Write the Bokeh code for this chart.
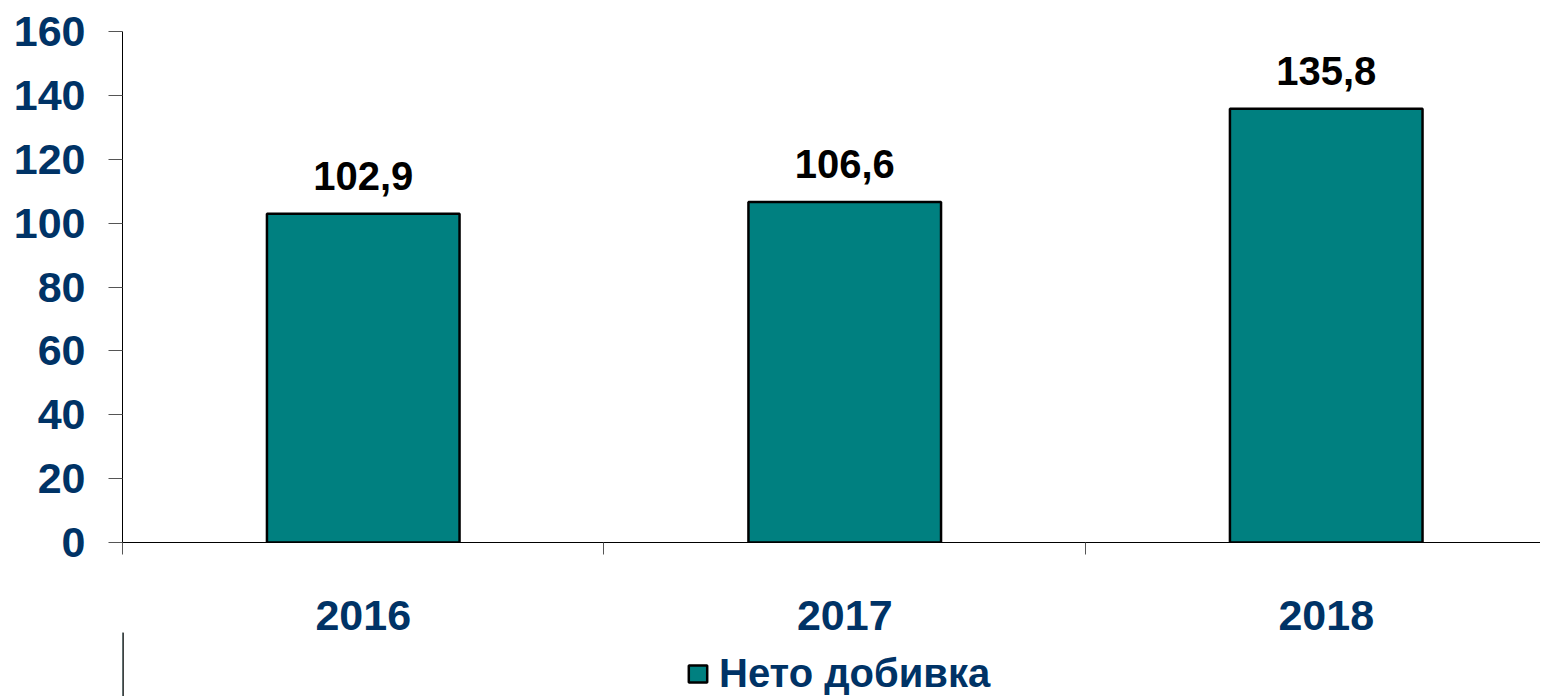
from bokeh.plotting import figure
from bokeh.layouts import column
from bokeh.models import Range1d, FixedTicker, Legend, LegendItem, ColumnDataSource
from bokeh.core.properties import value
from bokeh.embed import file_html
from bokeh.resources import INLINE

years = ["2016", "2017", "2018"]
net_profit = [102.9, 106.6, 135.8]
value_labels = ["102,9", "106,6", "135,8"]
y_ticks = [0, 20, 40, 60, 80, 100, 120, 140, 160]
series_name = "Нето добивка"

NAVY = "#003366"
TEAL = "#008080"
FONT = "Liberation Sans"

xs = [i + 0.5 for i in range(len(years))]
src = ColumnDataSource(dict(x=xs, top=net_profit, lab=value_labels))

p = figure(frame_width=1418, frame_height=511, output_backend="svg", toolbar_location=None,
           x_range=Range1d(0, 2.945), y_range=Range1d(0, 160),
           min_border_left=122, min_border_top=31, min_border_right=0, min_border_bottom=0)
p.outline_line_color = None
p.xgrid.visible = False
p.ygrid.visible = False
p.background_fill_color = "white"

r = p.vbar(x="x", top="top", width=0.4, bottom=0, source=src,
           fill_color=TEAL, line_color="black", line_width=2.5)

p.text(x="x", y="top", text="lab", source=src, text_align="center",
       text_baseline="alphabetic", y_offset=-38,
       text_font=value(FONT), text_font_style="bold", text_font_size="40px",
       text_color="black")

# y axis
ya = p.yaxis[0]
ya.ticker = FixedTicker(ticks=y_ticks)
ya.axis_line_color = "black"
ya.axis_line_width = 1
ya.major_tick_out = 14
ya.major_tick_in = 0
ya.major_tick_line_color = "#555555"
ya.minor_tick_line_color = None
ya.major_label_standoff = 23
ya.major_label_text_font = FONT
ya.major_label_text_font_style = "bold"
ya.major_label_text_font_size = "43px"
ya.major_label_text_color = NAVY

# x axis
xa = p.xaxis[0]
xa.ticker = FixedTicker(ticks=xs, minor_ticks=[0, 1, 2])
xa.major_label_overrides = {x: y for x, y in zip(xs, years)}
xa.axis_line_color = "black"
xa.major_tick_out = 0
xa.major_tick_in = 0
xa.minor_tick_out = 12
xa.minor_tick_in = 0
xa.minor_tick_line_color = "#555555"
xa.major_label_standoff = 46
xa.major_label_text_font = FONT
xa.major_label_text_font_style = "bold"
xa.major_label_text_font_size = "43px"
xa.major_label_text_color = NAVY
xa.axis_label_standoff = 0

# legend strip below the chart
p2 = figure(width=1532, height=64, output_backend="svg", toolbar_location=None,
            x_range=Range1d(0, 1), y_range=Range1d(0, 1),
            min_border_left=0, min_border_right=0, min_border_top=0, min_border_bottom=0)
p2.axis.visible = False
p2.xgrid.visible = False
p2.ygrid.visible = False
p2.outline_line_color = None
# legend proxy: a tiny bar just outside the strip's visible range, only its swatch shows
proxy = p2.vbar(x=[-0.05], top=[1], bottom=[0], width=0.001,
                fill_color=TEAL, line_color="black", line_width=2.5)

legend = Legend(items=[LegendItem(label=series_name, renderers=[proxy])],
                location=(564, 0), orientation="horizontal",
                label_text_font=FONT, label_text_font_style="bold",
                label_text_font_size="40px", label_text_color=NAVY,
                glyph_width=23, glyph_height=21, border_line_color=None,
                background_fill_alpha=0, padding=0, margin=0, spacing=0,
                label_standoff=10)
p2.add_layout(legend, "center")

open("out.html", "w").write(file_html(column(p, p2, spacing=0), INLINE))
